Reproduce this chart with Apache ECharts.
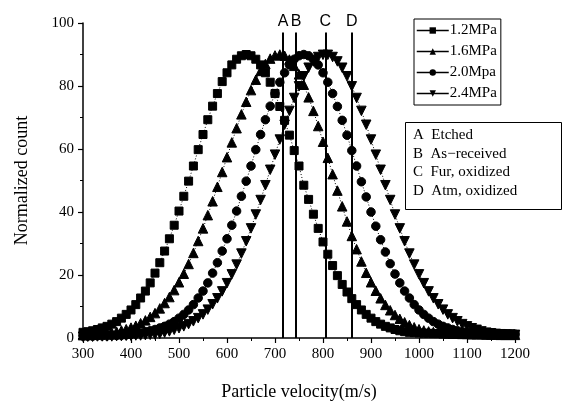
<!DOCTYPE html>
<html>
<head>
<meta charset="utf-8">
<script src="https://cdn.jsdelivr.net/npm/echarts@6/dist/echarts.min.js"></script>
<style>
  html, body { margin: 0; padding: 0; background: #fff; }
  #chart { width: 563px; height: 406px; }
</style>
</head>
<body>
<div id="chart"></div>
<script>
// Particle velocity grid (m/s), one sample every 10 m/s
const velocity = [];
for (let v = 300; v <= 1200; v += 10) velocity.push(v);

const seriesNames = ['1.2MPa', '1.6MPa', '2.0Mpa', '2.4MPa'];

const count12 = [
  1.8, 2.0, 2.3, 2.7, 3.2, 3.7, 4.4, 5.2, 6.3, 7.5,
  8.9, 10.6, 12.7, 14.9, 17.5, 20.6, 23.9, 27.6, 31.5, 35.8,
  40.3, 45.0, 49.8, 54.6, 59.8, 64.6, 69.3, 73.6, 77.6, 81.4,
  84.2, 86.7, 88.5, 89.6, 90.0, 89.6, 88.5, 86.7, 84.2, 81.2,
  77.6, 73.5, 69.1, 64.4, 59.5, 54.6, 48.5, 44.0, 39.3, 34.8,
  30.5, 26.6, 23.0, 19.8, 17.0, 14.6, 12.5, 10.6, 8.9, 7.5,
  6.3, 5.2, 4.4, 3.7, 3.2, 2.7, 2.3, 2.0, 1.8, 1.7,
  1.6, 1.5, 1.5, 1.4, 1.4, 1.3, 1.3, 1.3, 1.2, 1.2,
  1.2, 1.1, 1.1, 1.1, 1.1, 1.0, 1.0, 1.0, 1.0, 1.0,
  1.0
];
const count16 = [
  0.9, 1.0, 1.1, 1.2, 1.3, 1.5, 1.7, 2.0, 2.4, 2.8,
  3.3, 3.9, 4.7, 5.6, 6.7, 7.9, 9.4, 11.1, 13.0, 15.2,
  17.7, 20.4, 23.5, 27.0, 30.8, 34.8, 39.0, 43.4, 48.0, 52.7,
  57.4, 62.1, 66.6, 71.0, 75.0, 78.7, 82.0, 84.8, 87.0, 88.7,
  89.7, 90.0, 89.6, 88.4, 86.4, 83.7, 80.4, 76.4, 72.1, 67.3,
  62.3, 57.2, 52.0, 46.8, 41.8, 37.0, 32.4, 28.2, 24.3, 20.7,
  17.7, 15.0, 12.6, 10.5, 8.8, 7.3, 6.1, 5.0, 4.1, 3.4,
  2.8, 2.4, 2.1, 1.9, 1.7, 1.6, 1.5, 1.4, 1.4, 1.3,
  1.3, 1.2, 1.2, 1.2, 1.1, 1.1, 1.1, 1.0, 1.0, 1.0,
  1.0
];
const count20 = [
  0.6, 0.6, 0.6, 0.7, 0.7, 0.7, 0.8, 0.8, 0.9, 1.0,
  1.1, 1.3, 1.6, 2.0, 2.3, 2.7, 3.2, 3.7, 4.4, 5.2,
  6.3, 7.5, 8.9, 10.6, 12.7, 14.9, 17.5, 20.6, 23.9, 27.6,
  31.5, 35.8, 40.3, 45.0, 49.8, 54.6, 59.8, 64.6, 69.3, 73.6,
  77.6, 81.2, 84.2, 86.7, 88.5, 89.6, 90.0, 89.6, 88.5, 86.7,
  84.2, 81.2, 77.6, 73.5, 69.1, 64.4, 59.5, 54.6, 49.6, 44.8,
  40.0, 35.5, 31.2, 27.3, 23.6, 20.3, 17.5, 14.9, 12.7, 10.6,
  8.9, 7.5, 6.3, 5.2, 4.4, 3.7, 3.2, 2.7, 2.3, 2.0,
  1.8, 1.7, 1.6, 1.5, 1.5, 1.4, 1.4, 1.3, 1.3, 1.2,
  1.2
];
const count24 = [
  0.4, 0.4, 0.4, 0.5, 0.5, 0.5, 0.5, 0.6, 0.6, 0.7,
  0.7, 0.8, 0.8, 0.9, 1.0, 1.1, 1.3, 1.7, 2.1, 2.6,
  3.1, 3.7, 4.4, 5.3, 6.3, 7.5, 9.0, 10.7, 12.6, 14.8,
  17.4, 20.2, 23.3, 26.8, 30.7, 34.8, 39.2, 43.8, 48.5, 53.4,
  58.2, 63.0, 67.7, 72.1, 76.2, 79.9, 83.1, 85.8, 87.8, 89.2,
  89.9, 89.9, 89.2, 87.8, 85.8, 83.1, 79.9, 76.2, 72.1, 67.7,
  63.0, 58.2, 53.4, 48.5, 43.8, 39.2, 34.8, 30.7, 26.8, 23.3,
  20.2, 17.4, 14.8, 12.6, 10.7, 9.0, 7.5, 6.3, 5.3, 4.4,
  3.7, 3.1, 2.6, 2.1, 1.7, 1.5, 1.3, 1.2, 1.1, 1.1,
  1.0
];

// Reference velocities of the four surface conditions
const refLetters = ['A', 'B', 'C', 'D'];
const refVelocity = [717, 744, 805, 860];
const refTop = 97;
const refNames = ['Etched', 'As\u2212received', 'Fur, oxidized', 'Atm, oxidized'];

const xTicks = { min: 300, max: 1200, step: 100 };
const yTicks = { min: 0, max: 100, step: 20 };

const SERIF = '"Liberation Serif", "DejaVu Serif", serif';
const SANS = '"Liberation Sans", "DejaVu Sans", sans-serif';

const zip = (vals) => velocity.map((v, i) => [v, vals[i]]);

const markerDefs = [
  { symbol: 'rect', size: 8, rotate: 0 },
  { symbol: 'triangle', size: 9.5, rotate: 0 },
  { symbol: 'circle', size: 8.5, rotate: 0 },
  { symbol: 'triangle', size: 9.5, rotate: 180 }
];
const allCounts = [count12, count16, count20, count24];

const series = allCounts.map((vals, k) => ({
  name: seriesNames[k],
  type: 'line',
  data: zip(vals),
  symbol: markerDefs[k].symbol,
  symbolSize: markerDefs[k].size,
  symbolRotate: markerDefs[k].rotate,
  showAllSymbol: true,
  lineStyle: { color: '#000', width: 1, type: [1, 2] },
  itemStyle: { color: '#000', borderColor: '#000' },
  animation: false
}));

// Vertical reference lines with their letters
series.push({
  name: 'refs',
  type: 'line',
  data: [],
  silent: true,
  markLine: {
    symbol: 'none',
    silent: true,
    animation: false,
    lineStyle: { color: '#000', width: 2, type: 'solid' },
    label: {
      show: true,
      position: 'end',
      distance: 3,
      color: '#000',
      fontFamily: SANS,
      fontSize: 16
    },
    data: refVelocity.map((v, i) => [
      { coord: [v, 0], name: refLetters[i], label: { formatter: refLetters[i] } },
      { coord: [v, refTop] }
    ])
  }
});

const chart = echarts.init(document.getElementById('chart'), null, { renderer: 'canvas' });

const refTextLines = refLetters.map((l, i) => ({
  type: 'text',
  left: 413,
  top: 128 + i * 18.5,
  style: {
    text: l + '  ' + refNames[i],
    font: '15px ' + SERIF,
    fill: '#000'
  }
}));

chart.setOption({
  backgroundColor: '#fff',
  animation: false,
  grid: { left: 83, right: 48, top: 23, bottom: 66 },
  xAxis: {
    type: 'value',
    min: xTicks.min,
    max: xTicks.max,
    interval: xTicks.step,
    name: 'Particle velocity(m/s)',
    nameLocation: 'middle',
    nameGap: 45,
    nameTextStyle: { fontFamily: SERIF, fontSize: 18, color: '#000' },
    axisLine: { lineStyle: { color: '#000', width: 1.5 } },
    axisTick: { inside: false, length: 5, lineStyle: { color: '#000', width: 1.2 } },
    minorTick: { show: true, splitNumber: 2, length: 3, lineStyle: { color: '#000' } },
    axisLabel: {
      fontFamily: SERIF, fontSize: 15, color: '#000', margin: 9,
      formatter: (v) => String(v)
    },
    splitLine: { show: false }
  },
  yAxis: {
    type: 'value',
    min: yTicks.min,
    max: yTicks.max,
    interval: yTicks.step,
    name: 'Normalized count',
    nameLocation: 'middle',
    nameGap: 52,
    nameTextStyle: { fontFamily: SERIF, fontSize: 18, color: '#000' },
    axisLine: { show: true, lineStyle: { color: '#000', width: 1.5 } },
    axisTick: { show: true, inside: false, length: 5, lineStyle: { color: '#000', width: 1.2 } },
    minorTick: { show: true, splitNumber: 2, length: 3, lineStyle: { color: '#000' } },
    axisLabel: { fontFamily: SERIF, fontSize: 15, color: '#000', margin: 9 },
    splitLine: { show: false }
  },
  legend: {
    data: seriesNames,
    orient: 'vertical',
    left: 414,
    top: 19,
    padding: [4, 4, 4, 2],
    itemGap: 6,
    itemWidth: 32,
    itemHeight: 8,
    borderColor: '#000',
    borderWidth: 1,
    lineStyle: { type: 'solid', width: 1.5, color: '#000' },
    textStyle: { fontFamily: SERIF, fontSize: 15, color: '#000', padding: [0, 0, 0, -4] }
  },
  graphic: [
    {
      type: 'rect',
      shape: { x: 405.5, y: 122.5, width: 156, height: 87 },
      style: { fill: '#fff', stroke: '#000', lineWidth: 1 }
    },
    ...refTextLines
  ],
  series: series
});
</script>
</body>
</html>
